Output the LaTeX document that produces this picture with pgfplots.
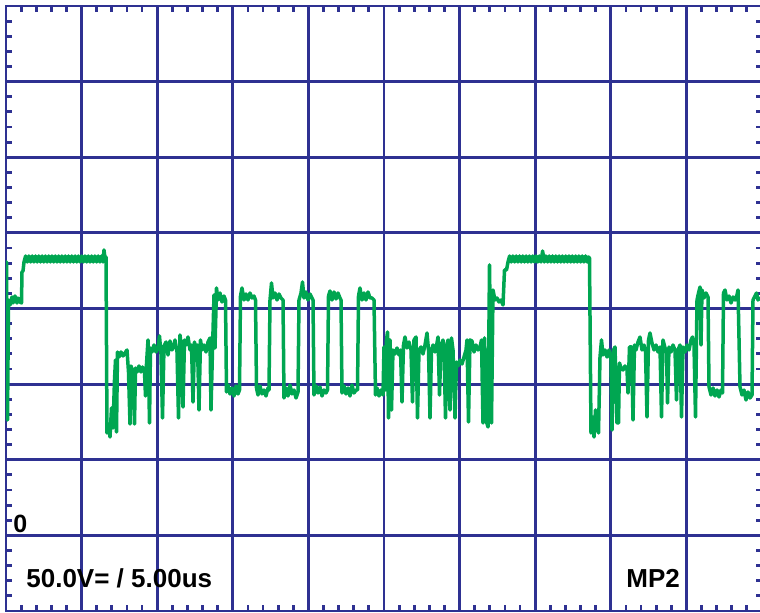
\documentclass[border=0pt]{standalone}
\usepackage{pgfplots}
\pgfplotsset{compat=1.18}
\usepackage{fontspec}
\setmainfont{Liberation Sans}
\definecolor{scopegrid}{RGB}{46,49,146}
\definecolor{scopetrace}{RGB}{0,166,81}
\begin{document}
\begin{tikzpicture}
\begin{axis}[
  at={(3pt,1pt)}, anchor=south west,
  scale only axis, width=378pt, height=302.5pt,
  xmin=6, xmax=762, ymin=6, ymax=611, y dir=reverse,
  xtick={6,81.6,157.2,232.8,308.4,384,459.6,535.2,610.8,686.4,762},
  ytick={6,81.625,157.25,232.875,308.5,384.125,459.75,535.375,611},
  xticklabels={}, yticklabels={},
  minor x tick num=4, minor y tick num=4,
  xtick pos=both, ytick pos=both, tick align=inside,
  major tick length=3pt, minor tick length=3pt,
  every tick/.style={scopegrid, line width=1.4pt},
  grid=major, major grid style={scopegrid, line width=1.4pt},
  axis line style={scopegrid, line width=1.4pt},
  clip=true,
]
\addplot[scopetrace, line width=1.75pt, line join=round, mark=none] coordinates {
(6,410) (6.5,262) (7.5,420) (8.5,300) (10,305) (12,297) (13,303) (15,296) (17,303) (18,298) (20,302) (21.5,303) (22,272) (23,271)
(24,262) (25.6,256) (27.3,262) (28.9,256) (30.6,262) (32.2,256) (33.9,262) (35.5,256) (37.2,262) (38.8,256) (40.5,262) (42.1,256) (43.8,262) (45.4,256) (47.1,262) (48.7,256) (50.4,262) (52,256) (53.7,262) (55.3,256) (57,262) (58.6,256) (60.3,262) (61.9,256) (63.6,262) (65.2,256) (66.9,262) (68.5,256) (70.2,262) (71.8,256) (73.5,262) (75.1,256) (76.8,262) (78.4,256) (80.1,262) (81.7,256) (83.4,262) (85,256) (86.7,262) (88.3,256) (90,262) (91.6,256) (93.3,262) (94.9,256) (96.6,262) (98.2,256) (99.9,262) (101.5,256) (103,262) (104,250) (105,258) (106,257)
(107,433) (108.5,425) (110,437) (111.5,408) (113,428) (114.5,380) (115.5,360) (116.5,432) (117.5,352) (119,357) (121,352) (123,356) (125,353) (127,350) (128.5,372) (130,424) (131,366) (133,373) (134.5,424) (135.5,368) (137,372) (139,366) (141,372) (142.5,367) (144.5,372) (145.5,396) (146.5,364) (148,340) (149.5,423) (150.5,348) (152,352) (154,345) (156,352) (158,348) (159.5,336) (161,354) (162.5,418) (164,346) (166,342) (168,355) (170,341) (172,350) (174,345) (175,340) (177,352) (178.5,418) (180,335) (181.5,348) (183,407) (184.5,340) (186,345) (188,337) (190,350) (191.5,345) (193,402) (194.5,342) (196,350) (197.5,345) (199,410) (200.5,340) (202,350) (204,345) (206,352) (208,342) (210,338) (211,410) (212.5,350)
(214,295) (215,348) (216.5,288) (218,300) (220,293) (222,302) (224,296) (225.5,300) (226.5,392) (228,385) (230,394) (232,388) (234,396) (236,386) (238,394) (239.5,390) (240.5,296) (242,288) (244,300) (246,294) (248,300) (250,293) (252,298) (254,296) (255.5,300) (256.5,388) (258,395) (260,386) (262,394) (264,390) (266,396) (268,388) (269,390) (270,300) (271.5,283) (273,298) (275,293) (277,300) (279,294) (281,298) (283,300) (284,398) (286,388) (288,396) (290,385) (292,394) (294,390) (296,398) (298,392) (299,300) (301,293) (302.5,282) (304,298) (306,292) (308,300) (310,294) (312,298) (313,300) (314,395) (316,386) (318,393) (320,387) (322,396) (324,390) (326,393) (327.5,390) (328.5,296) (330,291) (332,300) (334,292) (336,299) (338,293) (340,298) (341,300) (342,393) (344,386) (346,394) (348,388) (350,396) (352,385) (354,393) (356,390) (357.5,390) (358.5,296) (360,288) (362,300) (364,293) (366,300) (368,292) (370,298) (372,298) (374,300) (375.5,395) (377,388) (379,396) (381,390) (383,395)
(384,347) (385.5,390) (386.5,340) (387.5,332) (388.5,418) (390,340) (391.5,410) (393,350) (395,354) (397,348) (399,355) (400.5,350) (402,402) (403.5,345) (405,337) (407,348) (409,342) (411,350) (412.5,402) (414,340) (416,337) (417.5,418) (419,350) (421,347) (423,354) (425,345) (427,333) (428.5,350) (430,418) (431.5,350) (433,345) (435,352) (437,343) (438,337) (439.5,395) (441,345) (443,340) (444,348) (445.5,418) (447,345) (448,340) (450,410) (451.5,338) (453,350) (455,418) (456.5,362) (458,366) (460,360) (462,364) (464,357) (466,350) (467,340) (468.5,422) (470,340) (472,341) (474,352) (476,345) (478,350) (480,347) (481.5,340) (483,423) (484.5,338) (486.5,422) (488,427) (489.5,265) (491.5,423) (493,290) (495,300) (497,298) (499,302) (501,300) (503,305) (504.5,270) (506.5,270)
(508,262) (509.6,256) (511.3,262) (512.9,256) (514.6,262) (516.2,256) (517.9,262) (519.5,256) (521.2,262) (522.8,256) (524.5,262) (526.1,256) (527.8,262) (529.4,256) (531.1,262) (532.7,256) (534.4,262) (536,256) (537.7,262) (539.3,256) (541,262) (542.6,251) (544.3,262) (545.9,256) (547.6,262) (549.2,256) (550.9,262) (552.5,256) (554.2,262) (555.8,256) (557.5,262) (559.1,256) (560.8,262) (562.4,256) (564.1,262) (565.7,256) (567.4,262) (569,256) (570.7,262) (572.3,256) (574,262) (575.6,256) (577.3,262) (578.9,256) (580.6,262) (582.2,256) (583.9,262) (585.5,256) (587.2,262) (588.5,257) (589.5,258)
(591,433) (592.5,417) (594,437) (595.5,410) (597,425) (598.5,433) (600,357) (601.5,340) (603,355) (605,350) (607,357) (609,350) (611,360) (612,430) (613.5,350) (615,347) (617,423) (618.5,423) (619.5,363) (621,368) (623,370) (625,366) (627,370) (628,393) (629.5,347) (631.5,347) (633,420) (634.5,345) (636,350) (638,342) (640,337) (642,350) (644,345) (645.5,352) (647,417) (648.5,340) (650,333) (652,343) (654,350) (656,345) (658,352) (660,347) (661.5,417) (663,340) (665,348) (666.5,350) (667.5,403) (669,347) (671,352) (673,345) (675,350) (676.5,400) (678,350) (680,345) (681.5,417) (683,347) (685,352) (687,345) (689,350) (691,340) (692.5,337) (694,345) (695.5,417)
(697,300) (698.5,293) (700,287) (701,345) (702,290) (704,298) (706,293) (708,297) (709,387) (711,395) (713,388) (715,396) (717,390) (719,397) (721,390) (722.5,393) (723.5,293) (725,290) (727,300) (729,296) (731,303) (733,297) (735,300) (737,295) (738,290) (740,387) (742,395) (744,390) (746,400) (748,392) (750,398) (752,395) (753,300) (755,296) (756.5,293) (758,300) (760,297)
};
\node[anchor=base west, inner sep=0pt, font=\fontsize{13pt}{13pt}\selectfont\bfseries] at (axis cs:26,588) {50.0V= / 5.00us};
\node[anchor=base west, inner sep=0pt, font=\fontsize{13pt}{13pt}\selectfont\bfseries] at (axis cs:626,588) {MP2};
\node[anchor=base west, inner sep=0pt, font=\fontsize{12.5pt}{12.5pt}\selectfont\bfseries] at (axis cs:13,533) {0};
\end{axis}
\pgfresetboundingbox
\path[use as bounding box] (0,0) rectangle (380pt,306.5pt);
\end{tikzpicture}
\end{document}
